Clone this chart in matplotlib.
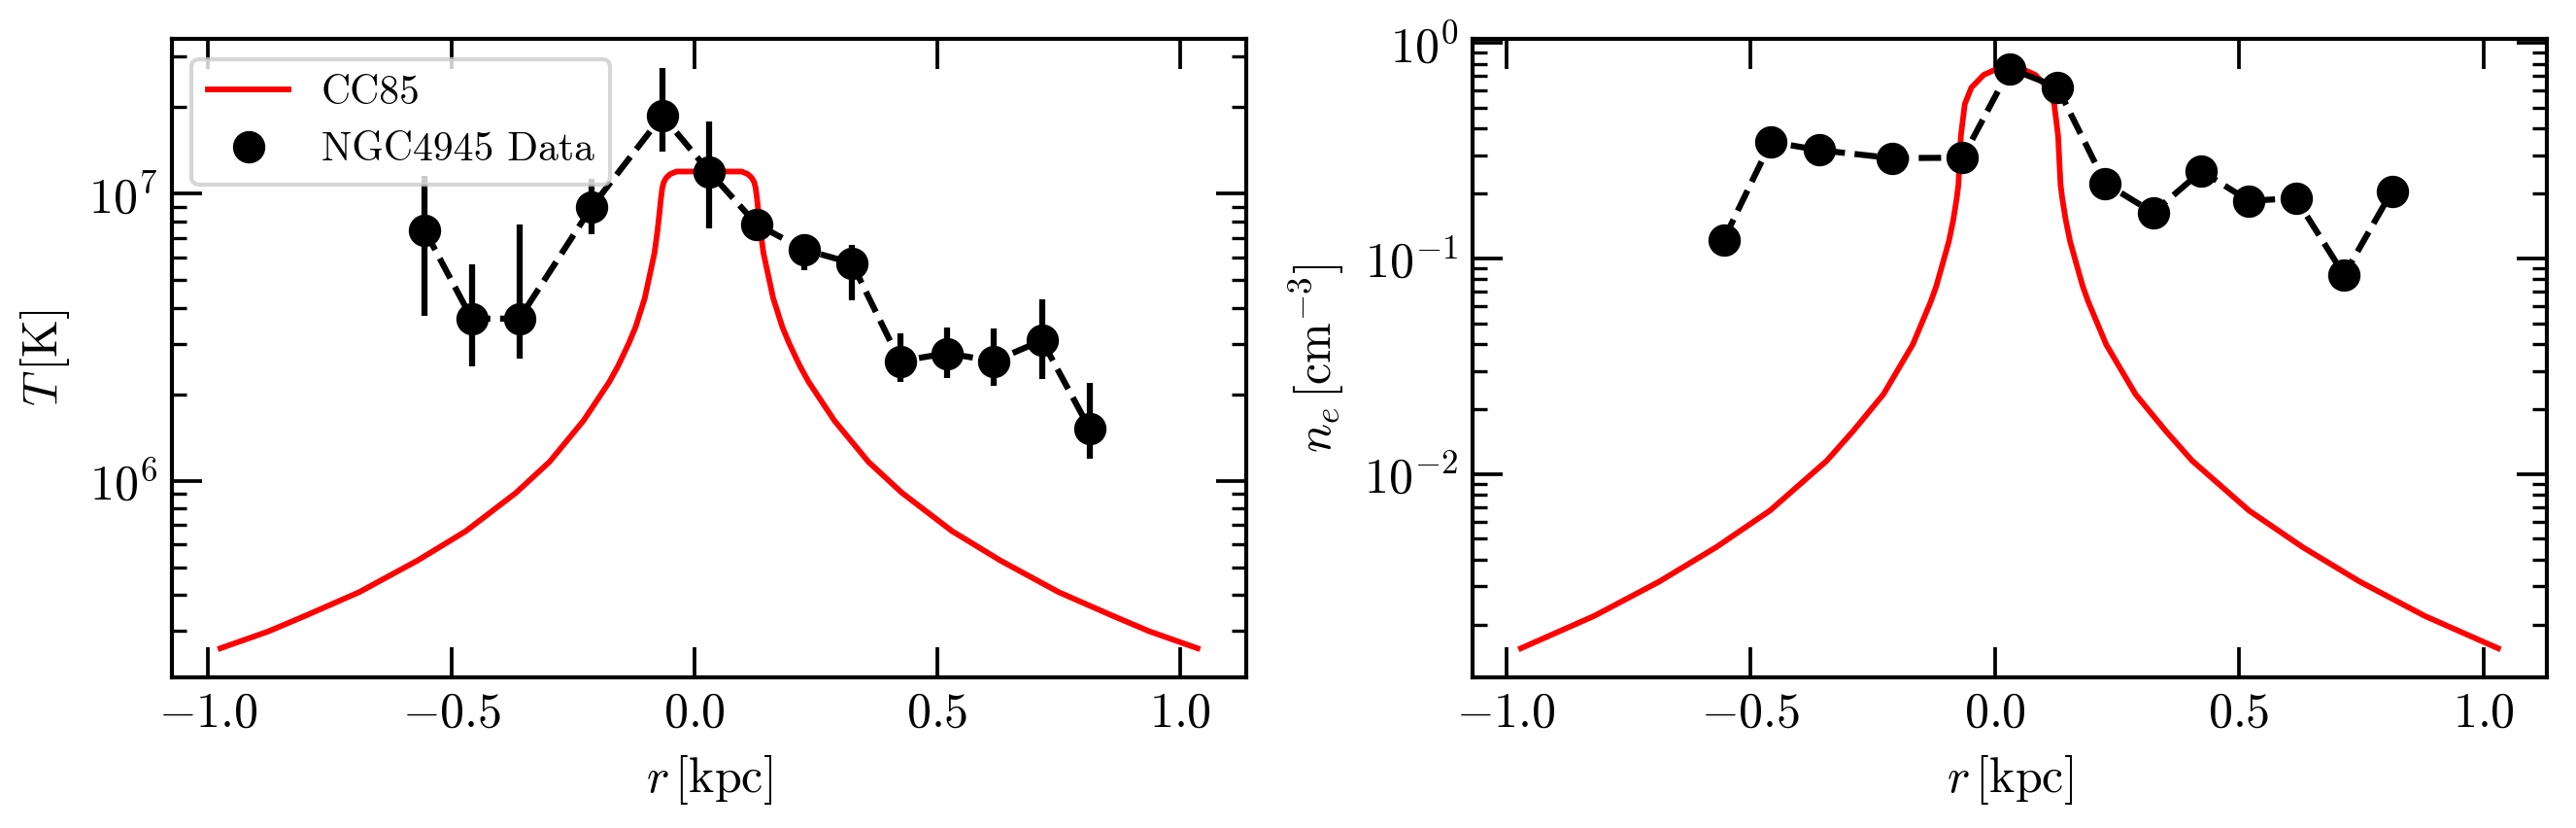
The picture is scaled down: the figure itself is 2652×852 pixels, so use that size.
import matplotlib
matplotlib.use('Agg')
import matplotlib.pyplot as plt
import numpy as np

# Estilo tipo LaTeX (Computer Modern)
plt.rcParams['font.family'] = 'serif'
plt.rcParams['font.serif'] = ['cmr10']
plt.rcParams['mathtext.fontset'] = 'cm'
plt.rcParams['axes.formatter.use_mathtext'] = True
plt.rcParams['font.size'] = 12

# Modelo CC85: distancia al centro del viento y perfiles
x_centro = 0.03
d_T = [0.0, 0.04, 0.067, 0.080, 0.088, 0.093, 0.096, 0.099, 0.102, 0.106,
       0.112, 0.122, 0.132, 0.151, 0.165, 0.187, 0.205, 0.258, 0.328, 0.397,
       0.50, 0.60, 0.72, 0.83, 0.906, 1.005]
T_cc85 = [1.194e7, 1.194e7, 1.194e7, 1.169e7, 1.135e7, 1.096e7, 1.047e7,
          9.55e6, 8.51e6, 7.41e6, 6.22e6, 5.19e6, 4.33e6, 3.43e6, 3.01e6,
          2.51e6, 2.21e6, 1.62e6, 1.164e6, 9.08e5, 6.68e5, 5.27e5, 4.09e5,
          3.39e5, 2.99e5, 2.61e5]
d_n = [0.0, 0.03, 0.053, 0.078, 0.0915, 0.0995, 0.1045, 0.108, 0.115, 0.124,
       0.1375, 0.150, 0.161, 0.198, 0.258, 0.320, 0.374, 0.490, 0.60, 0.717,
       0.85, 1.0]
n_cc85 = [0.765, 0.75, 0.71, 0.62, 0.52, 0.37, 0.22, 0.19, 0.151, 0.120,
          0.0933, 0.0741, 0.0631, 0.0398, 0.0234, 0.0158, 0.0115, 0.00676,
          0.00457, 0.00316, 0.00219, 0.00155]

# Datos de NGC4945
r_data = [-0.555, -0.458, -0.360, -0.211, -0.066, 0.031, 0.128, 0.226, 0.324,
          0.423, 0.520, 0.616, 0.715, 0.813]
T_data = [7.47e6, 3.67e6, 3.67e6, 9.0e6, 1.87e7, 1.19e7, 7.82e6, 6.38e6, 5.73e6,
          2.61e6, 2.78e6, 2.61e6, 3.08e6, 1.52e6]
T_low = [3.75e6, 2.51e6, 2.67e6, 7.24e6, 1.40e7, 7.59e6, 7.3e6, 5.40e6, 4.24e6,
         2.21e6, 2.28e6, 2.14e6, 2.26e6, 1.19e6]
T_high = [1.15e7, 5.66e6, 7.82e6, 1.13e7, 2.74e7, 1.79e7, 8.4e6, 7.22e6, 6.64e6,
          3.27e6, 3.42e6, 3.38e6, 4.30e6, 2.19e6]
n_data = [0.122, 0.347, 0.318, 0.292, 0.293, 0.76, 0.623, 0.223, 0.163, 0.254,
          0.185, 0.19, 0.0837, 0.205]


def perfil_simetrico(d, y):
    d = np.asarray(d)
    y = np.asarray(y)
    x = np.concatenate([x_centro - d[::-1], x_centro + d[1:]])
    return x, np.concatenate([y[::-1], y[1:]])


x_T, y_T = perfil_simetrico(d_T, T_cc85)
x_n, y_n = perfil_simetrico(d_n, n_cc85)

T_data = np.array(T_data)
yerr = [T_data - np.array(T_low), np.array(T_high) - T_data]

fig, (ax1, ax2) = plt.subplots(1, 2, figsize=(8.84, 2.84), dpi=300)
fig.subplots_adjust(left=0.0666, right=0.9887, bottom=0.182, top=0.953, wspace=0.21)

# Temperatura
ax1.plot(x_T, y_T, color='red', lw=1.4, label='CC85')
ax1.errorbar(r_data, T_data, yerr=yerr, fmt='none', ecolor='k', elinewidth=1.5)
ax1.plot(r_data, T_data, 'k--', lw=1.5)
ax1.plot(r_data, T_data, 'ko', ms=7, label='NGC4945 Data')
ax1.set_yscale('log')
ax1.set_xlabel(r'$r\,[\mathrm{kpc}]$')
ax1.set_ylabel(r'$T\,[\mathrm{K}]$')
ax1.legend(loc='upper left', fontsize=10)

# Densidad electrónica
ax2.plot(x_n, y_n, color='red', lw=1.4)
ax2.plot(r_data, n_data, 'k--', lw=1.5)
ax2.plot(r_data, n_data, 'ko', ms=7)
ax2.set_yscale('log')
ax2.set_xlabel(r'$r\,[\mathrm{kpc}]$')
ax2.set_ylabel(r'$n_e\,[\mathrm{cm^{-3}}]$')

for ax in (ax1, ax2):
    ax.tick_params(which='both', direction='in', top=True, right=True)
    ax.tick_params(which='major', length=7.5, width=0.9)
    ax.tick_params(which='minor', length=3.5, width=0.8)
    for s in ax.spines.values():
        s.set_linewidth(1.0)

plt.savefig('out.png', dpi=300)
